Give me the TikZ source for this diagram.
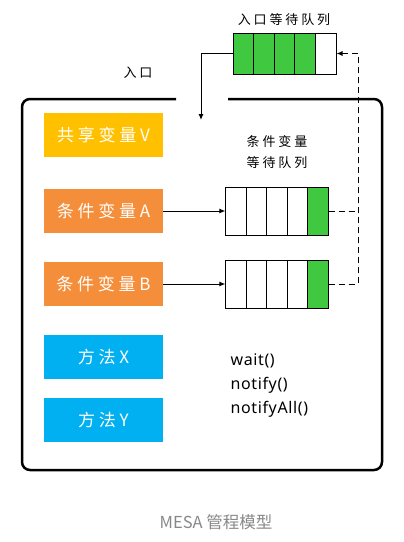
\documentclass[tikz,border=0pt]{standalone}
\usepackage{fontspec}
\newfontfamily\cjk[LetterSpace=22]{Noto Sans CJK SC}
\newfontfamily\capfont{Noto Sans CJK SC}
\newfontfamily\codefont[LetterSpace=4]{Noto Sans}
\definecolor{shareYellow}{RGB}{255, 192, 0}
\definecolor{condOrange}{RGB}{245, 142, 58}
\definecolor{methodBlue}{RGB}{0, 176, 240}
\definecolor{queueGreen}{RGB}{64, 200, 64}
\definecolor{capGray}{RGB}{136, 136, 136}
\usetikzlibrary{positioning, calc, arrows.meta}

\begin{document}
\begin{tikzpicture}[
    x=1pt, y=-1pt,
    varbox/.style={rectangle, minimum width=119pt, minimum height=44pt,
                   text=white, inner sep=0pt, font=\cjk\fontsize{17}{19}\selectfont},
    cell/.style={rectangle, draw=black, line width=1pt, inner sep=0pt,
                 minimum width=20.6pt},
    note/.style={font=\cjk\fontsize{13}{21}\selectfont, align=center},
    arrow/.style={-{Latex[length=6pt,width=5pt]}, line width=1pt},
    back/.style={dashed, dash pattern=on 6pt off 4pt, line width=1pt},
  ]
    \useasboundingbox (0,0) rectangle (404,542);

    % monitor frame, open at the entry
    \draw[line width=2.5pt, rounded corners=8pt]
      (176,99) -- (22,99) -- (22,470) -- (382,470) -- (382,99) -- (228,99);

    % entry queue
    \foreach \i/\c in {1/queueGreen, 2/queueGreen, 3/queueGreen, 4/queueGreen, 5/white}
      \node[cell, fill=\c, minimum height=41pt] (EQ\i) at ({222.7+20.6*\i}, 53.5) {};
    \node[note] (EQLBL) at (284,20) {入口等待队列};
    \node[note] (ENTRYLBL) at (138,73) {入口};
    \coordinate (ENTRY) at (201,120);
    \draw[arrow] (EQ1.west) -| (ENTRY);

    % variables
    \node[varbox, fill=shareYellow] (SV) at (103.5,135) {共享变量V};
    \node[varbox, fill=condOrange] (CVA) at (103.5,211) {条件变量A};
    \node[varbox, fill=condOrange] (CVB) at (103.5,284) {条件变量B};

    % methods
    \node[varbox, fill=methodBlue] (MX) at (103.5,356.5) {方法X};
    \node[varbox, fill=methodBlue] (MY) at (103.5,419.5) {方法Y};

    % condition queues
    \node[note] (CQLBL) at (277,152.5) {条件变量\\等待队列};
    \foreach \i/\c in {1/white, 2/white, 3/white, 4/white, 5/queueGreen} {
      \node[cell, fill=\c, minimum height=48pt] (QA\i) at ({215.8+20.4*\i}, 211) {};
      \node[cell, fill=\c, minimum height=48pt] (QB\i) at ({215.8+20.4*\i}, 284) {};
    }
    \draw[arrow] (CVA) -- (QA1.west);
    \draw[arrow] (CVB) -- (QB1.west);

    % back to the entry queue
    \coordinate (RET) at (358,284);
    \draw[back] (QA5.east) -- (QA5.east -| RET);
    \draw[back, arrow] (QB5.east) -- (RET) |- (EQ5.east);

    \node[font=\codefont\fontsize{16}{24}\selectfont, align=left, anchor=west]
      (API) at (227,386) {wait()\\notify()\\notifyAll()};

    \node[font=\capfont\fontsize{16.5}{18}\selectfont, text=capGray]
      (CAPTION) at (216,522) {MESA 管程模型};
  \end{tikzpicture}
\end{document}
